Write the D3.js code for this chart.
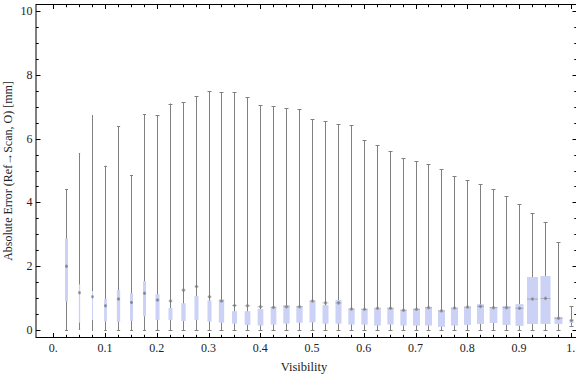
<!DOCTYPE html>
<html>
<head>
<meta charset="utf-8">
<script src="https://cdn.jsdelivr.net/npm/d3@7"></script>
<style>
  body { margin: 0; background: #fff; }
  text { font-family: "Liberation Serif", "DejaVu Serif", serif; fill: #222; }
</style>
</head>
<body>
<div id="chart"></div>
<script>
// bin centres (visibility)
const visibility = [0.025, 0.05, 0.075, 0.1, 0.125, 0.15, 0.175, 0.2, 0.225, 0.25,
	0.275, 0.3, 0.325, 0.35, 0.375, 0.4, 0.425, 0.45, 0.475, 0.5,
	0.525, 0.55, 0.575, 0.6, 0.625, 0.65, 0.675, 0.7, 0.725, 0.75,
	0.775, 0.8, 0.825, 0.85, 0.875, 0.9, 0.925, 0.95, 0.975, 1.0];
const whiskerMax = [4.42, 5.55, 6.74, 5.15, 6.39, 4.86, 6.77, 6.73, 7.10, 7.14,
	7.33, 7.48, 7.45, 7.45, 7.29, 7.04, 7.01, 6.95, 6.92, 6.60,
	6.54, 6.45, 6.42, 5.95, 5.79, 5.60, 5.38, 5.29, 5.19, 5.04,
	4.82, 4.69, 4.57, 4.41, 4.19, 3.94, 3.66, 3.38, 2.75, 0.74];
const whiskerMin = [0, 0.03, 0, 0, 0, 0, 0, 0, 0, 0,
	0, 0, 0, 0, 0, 0, 0, 0, 0, 0,
	0, 0, 0, 0, 0, 0, 0, 0, 0, 0,
	0, 0, 0, 0, 0, 0, 0, 0, 0, 0.13];
const q3 = [2.87, 1.43, 1.22, 0.97, 1.25, 1.15, 1.53, 1.12, 0.69, 0.84,
	1.07, 0.93, 0.96, 0.59, 0.59, 0.66, 0.72, 0.78, 0.75, 0.91,
	0.78, 0.94, 0.66, 0.66, 0.67, 0.70, 0.63, 0.66, 0.71, 0.61,
	0.69, 0.72, 0.81, 0.72, 0.75, 0.81, 1.66, 1.69, 0.41, 0.34];
const q1 = [0.89, 0.23, 0.31, 0.26, 0.25, 0.29, 0.43, 0.31, 0.31, 0.28,
	0.31, 0.26, 0.23, 0.20, 0.16, 0.14, 0.17, 0.20, 0.23, 0.24,
	0.20, 0.20, 0.17, 0.17, 0.14, 0.17, 0.14, 0.14, 0.14, 0.10,
	0.14, 0.16, 0.19, 0.22, 0.16, 0.13, 0.19, 0.19, 0.19, 0.22];
const meanErr = [2.00, 1.17, 1.04, 0.76, 0.97, 0.86, 1.15, 0.94, 0.91, 1.25,
	1.36, 1.04, 0.91, 0.77, 0.76, 0.73, 0.71, 0.73, 0.73, 0.91,
	0.85, 0.85, 0.66, 0.65, 0.68, 0.68, 0.62, 0.65, 0.70, 0.60,
	0.69, 0.72, 0.74, 0.70, 0.70, 0.68, 0.97, 0.99, 0.37, 0.30];
// relative sample size per bin (drives box width)
const sampleCount = [300, 130, 100, 270, 330, 300, 300, 400, 400, 430,
	400, 400, 530, 500, 570, 570, 570, 630, 630, 600,
	600, 600, 630, 630, 670, 630, 630, 700, 700, 700,
	700, 700, 700, 770, 800, 800, 1100, 1000, 800, 400];
const xTickLabels = ["0.", "0.1", "0.2", "0.3", "0.4", "0.5", "0.6", "0.7", "0.8", "0.9", "1."];
const yTickLabels = ["0", "2", "4", "6", "8", "10"];

const width = 576, height = 377;
const frame = { left: 36, right: 577, top: 4.5, bottom: 337.5 };

const svg = d3.select("#chart").append("svg")
	.attr("width", width).attr("height", height);

const x = d3.scaleLinear().domain([0, 1]).range([53.3, 570.8]);
const y = d3.scaleLinear().domain([0, 10]).range([330, 11]);
const w = d3.scaleLinear().domain([0, 1100]).range([0, 11]);

const rows = visibility.map((v, i) => ({
	v, lo: whiskerMin[i], hi: whiskerMax[i], q1: q1[i], q3: q3[i],
	mean: meanErr[i], n: sampleCount[i]
}));

const plot = svg.append("g");

// whiskers
plot.selectAll(".whisker").data(rows).join("line")
	.attr("class", "whisker")
	.attr("x1", (d) => Math.round(x(d.v)) + 0.5)
	.attr("x2", (d) => Math.round(x(d.v)) + 0.5)
	.attr("y1", (d) => y(d.lo)).attr("y2", (d) => y(d.hi))
	.attr("stroke", "#808080").attr("stroke-width", 1);

// caps
["lo", "hi"].forEach((k) => {
	plot.selectAll(".cap-" + k).data(rows).join("line")
		.attr("class", "cap-" + k)
		.attr("x1", (d) => Math.round(x(d.v)) + 0.5 - Math.min(2, w(d.n) / 2))
		.attr("x2", (d) => Math.round(x(d.v)) + 0.5 + Math.min(2, w(d.n) / 2))
		.attr("y1", (d) => Math.round(y(d[k])) + 0.5)
		.attr("y2", (d) => Math.round(y(d[k])) + 0.5)
		.attr("stroke", "#808080").attr("stroke-width", 1);
});

// boxes
plot.selectAll(".box").data(rows).join("rect")
	.attr("class", "box")
	.attr("x", (d) => Math.round(x(d.v)) + 0.5 - w(d.n) / 2)
	.attr("width", (d) => w(d.n))
	.attr("y", (d) => y(d.q3))
	.attr("height", (d) => y(d.q1) - y(d.q3))
	.attr("fill", "#cbd2f5");

// mean markers
plot.selectAll(".mean-line").data(rows).join("line")
	.attr("class", "mean-line")
	.attr("x1", (d) => Math.round(x(d.v)) + 0.5 - w(d.n) / 2)
	.attr("x2", (d) => Math.round(x(d.v)) + 0.5 + w(d.n) / 2)
	.attr("y1", (d) => y(d.mean)).attr("y2", (d) => y(d.mean))
	.attr("stroke", "#8a8a8a").attr("stroke-width", 0.8).attr("opacity", 0.7);
plot.selectAll(".mean-dot").data(rows).join("ellipse")
	.attr("class", "mean-dot")
	.attr("cx", (d) => Math.round(x(d.v)) + 0.5)
	.attr("cy", (d) => y(d.mean))
	.attr("rx", 1.3).attr("ry", 1.8)
	.attr("fill", "#777").attr("opacity", 0.75);

// frame
svg.append("rect")
	.attr("x", frame.left).attr("y", frame.top)
	.attr("width", frame.right - frame.left).attr("height", frame.bottom - frame.top)
	.attr("fill", "none").attr("stroke", "#000").attr("stroke-width", 1);

// y ticks (left and right, pointing inward)
const yMinor = d3.range(0, 10.01, 0.5);
const yG = svg.append("g");
yG.selectAll(".ytl").data(yMinor).join("line")
	.attr("x1", frame.left).attr("x2", (d) => frame.left + (d % 2 === 0 ? 4.5 : 2.7))
	.attr("y1", (d) => Math.round(y(d)) + 0.5).attr("y2", (d) => Math.round(y(d)) + 0.5)
	.attr("stroke", "#000");
yG.selectAll(".ytr").data(yMinor).join("line")
	.attr("x1", frame.right).attr("x2", (d) => frame.right - (d % 2 === 0 ? 4.5 : 2.7))
	.attr("y1", (d) => Math.round(y(d)) + 0.5).attr("y2", (d) => Math.round(y(d)) + 0.5)
	.attr("stroke", "#000");
yG.selectAll("text").data(yTickLabels).join("text")
	.attr("x", 32.5).attr("y", (d) => y(+d) + 4)
	.attr("text-anchor", "end").style("font-size", "12px")
	.text((d) => d);

// x ticks (bottom and top, pointing inward)
const xG = svg.append("g");
xG.selectAll(".xtb").data(visibility.concat([0])).join("line")
	.attr("x1", (d) => Math.round(x(d)) + 0.5).attr("x2", (d) => Math.round(x(d)) + 0.5)
	.attr("y1", frame.bottom)
	.attr("y2", (d) => frame.bottom - (Math.abs(d * 10 - Math.round(d * 10)) < 1e-6 ? 4.5 : 2.7))
	.attr("stroke", "#000");
xG.selectAll(".xtt").data(visibility.concat([0])).join("line")
	.attr("x1", (d) => Math.round(x(d)) + 0.5).attr("x2", (d) => Math.round(x(d)) + 0.5)
	.attr("y1", frame.top)
	.attr("y2", (d) => frame.top + (Math.abs(d * 10 - Math.round(d * 10)) < 1e-6 ? 4.5 : 2.7))
	.attr("stroke", "#000");
xG.selectAll("text").data(xTickLabels).join("text")
	.attr("x", (d, i) => x(i / 10)).attr("y", 352)
	.attr("text-anchor", "middle").style("font-size", "12px")
	.text((d) => d);

// axis titles
svg.append("text")
	.attr("x", 304).attr("y", 371)
	.attr("text-anchor", "middle").style("font-size", "12.5px")
	.text("Visibility");
svg.append("text")
	.attr("transform", "translate(12, 171) rotate(-90)")
	.attr("text-anchor", "middle").style("font-size", "12px")
	.text("Absolute Error (Ref\u2192Scan, O) [mm]");
</script>
</body>
</html>
